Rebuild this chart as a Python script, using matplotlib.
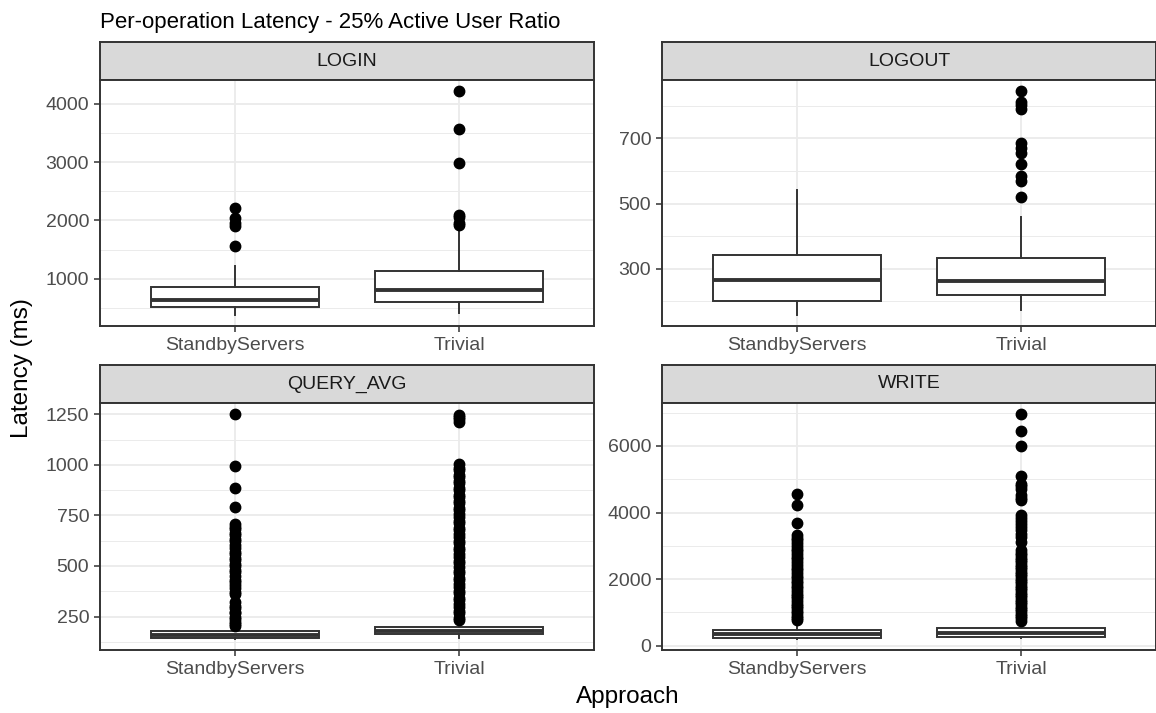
import matplotlib
matplotlib.use("Agg")
import matplotlib.pyplot as plt
from matplotlib.ticker import MultipleLocator, AutoMinorLocator

plt.rcParams['font.family'] = ['Liberation Sans', 'DejaVu Sans']

approaches = ["StandbyServers", "Trivial"]
operations = ["LOGIN", "LOGOUT", "QUERY_AVG", "WRITE"]

# box summaries per approach: [lower whisker, q1, median, q3, upper whisker]
login_box = [[381, 507, 627, 850, 1211], [416, 600, 811, 1125, 1890]]
login_out = [[1555, 1899, 1957, 2043, 2215],
             [1925, 1960, 2050, 2100, 2976, 3570, 4216]]

logout_box = [[159, 202, 266, 343, 541], [175, 220, 262, 332, 459]]
logout_out = [[],
              [521, 571, 586, 621, 655, 670, 687, 789, 802, 812, 845]]

query_box = [[140, 146, 160, 177, 200], [146, 162, 180, 200, 228]]
query_out = [[205, 212, 224, 239, 250, 266, 274, 291, 302, 320, 362, 371, 393, 404,
              422, 433, 452, 468, 479, 498, 509, 531, 540, 561, 569, 590, 603, 621,
              632, 652, 663, 682, 694, 708, 790, 886, 993, 1250],
             [232, 245, 267, 279, 299, 311, 333, 344, 366, 377, 398, 409, 431, 442,
              464, 476, 493, 514, 525, 546, 558, 579, 590, 612, 623, 645, 656, 678,
              689, 711, 722, 744, 755, 777, 788, 810, 821, 842, 853, 875, 887, 908,
              919, 941, 952, 974, 985, 1005, 1212, 1225, 1238, 1248]]

write_box = [[206, 222, 352, 475, 700], [215, 250, 392, 521, 700]]
write_out = [[760, 832, 905, 968, 1051, 1118, 1193, 1262, 1341, 1418, 1487, 1562,
              1643, 1718, 1792, 1871, 1948, 2033, 2107, 2188, 2263, 2342, 2421, 2508,
              2589, 2671, 2748, 2829, 2912, 2991, 3078, 3160, 3238, 3311, 3682, 4214,
              4565],
             [752, 818, 893, 961, 1027, 1102, 1168, 1243, 1309, 1382, 1451, 1522, 1588,
              1661, 1733, 1798, 1872, 1941, 2012, 2079, 2153, 2218, 2291, 2362, 2428,
              2503, 2571, 2638, 2712, 2781, 2859, 3110, 3261, 3362, 3461, 3558, 3662,
              3758, 3842, 3913, 4364, 4441, 4515, 4716, 4789, 4866, 5097, 6000, 6441,
              6953]]

boxes = [login_box, logout_box, query_box, write_box]
outliers = [login_out, logout_out, query_out, write_out]
# y break spacing and offset for each facet
tick_step = [1000, 200, 250, 2000]
tick_offset = [0, 100, 0, 0]

W, H = 1156, 713
fig = plt.figure(figsize=(W / 100, H / 100), dpi=100)


def px_axes(x0, y0, x1, y1):
    return fig.add_axes([x0 / W, 1 - y1 / H, (x1 - x0) / W, (y1 - y0) / H])


cols = [(100, 594), (662, 1156)]
rows = [(42, 80, 326), (365, 403, 650)]

edge = "#333333"
for i, op in enumerate(operations):
    x0, x1 = cols[i % 2]
    s0, s1, y1 = rows[i // 2]

    # facet strip
    strip = px_axes(x0, s0, x1, s1)
    strip.set_facecolor("#D9D9D9")
    strip.set_xticks([])
    strip.set_yticks([])
    for sp in strip.spines.values():
        sp.set_color(edge)
        sp.set_linewidth(1.4)
    strip.text(0.5, 0.5, op, ha="center", va="center", fontsize=14,
               color="#1A1A1A", transform=strip.transAxes)

    ax = px_axes(x0, s1, x1, y1)
    stats = []
    for b, fl in zip(boxes[i], outliers[i]):
        stats.append(dict(whislo=b[0], q1=b[1], med=b[2], q3=b[3], whishi=b[4],
                          fliers=fl))
    ax.bxp(stats, positions=[1, 2], widths=0.75, showcaps=False,
           patch_artist=True,
           boxprops=dict(facecolor="white", edgecolor=edge, linewidth=1.4),
           medianprops=dict(color=edge, linewidth=2.8),
           whiskerprops=dict(color=edge, linewidth=1.4),
           flierprops=dict(marker="o", markerfacecolor="black",
                           markeredgecolor="black", markersize=7.5))

    # ggplot-style 5% expansion around the data range
    vals = [v for b, fl in zip(boxes[i], outliers[i]) for v in b + fl]
    lo, hi = min(vals), max(vals)
    pad = (hi - lo) * 0.05
    ax.set_ylim(lo - pad, hi + pad)
    ax.set_xlim(0.4, 2.6)

    ax.set_xticks([1, 2])
    ax.set_xticklabels(approaches)
    ax.yaxis.set_major_locator(MultipleLocator(tick_step[i], offset=tick_offset[i]))
    ax.yaxis.set_minor_locator(AutoMinorLocator(2))
    ax.set_axisbelow(True)
    ax.grid(which="major", color="#EBEBEB", linewidth=1.3)
    ax.grid(which="minor", axis="y", color="#EBEBEB", linewidth=0.7)
    ax.tick_params(which="major", length=4.3, width=1.1, color=edge,
                   labelsize=14, labelcolor="#4D4D4D", pad=3.5)
    ax.tick_params(which="minor", length=0)
    for sp in ax.spines.values():
        sp.set_color(edge)
        sp.set_linewidth(1.4)

fig.text(100 / W, 1 - 28 / H, "Per-operation Latency - 25% Active User Ratio",
         fontsize=16, ha="left", va="baseline")
fig.text(628 / W, 1 - 697 / H, "Approach", fontsize=17.5, ha="center",
         va="center")
fig.text(22 / W, 1 - 368 / H, "Latency (ms)", fontsize=17.5, ha="center",
         va="center", rotation=90)

fig.savefig("out.png", dpi=100)
